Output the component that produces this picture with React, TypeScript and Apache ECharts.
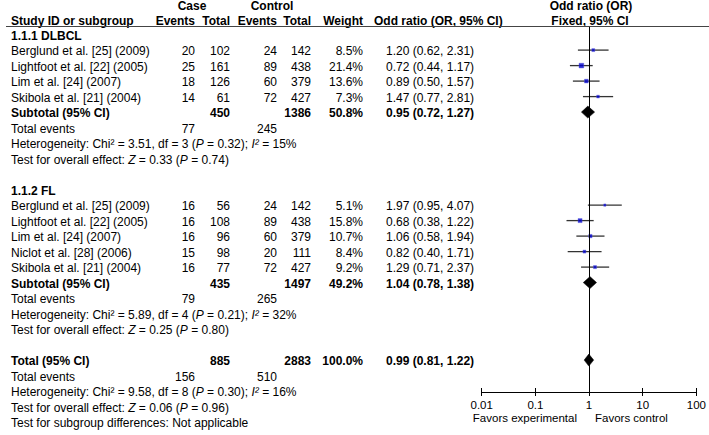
import React, { useEffect, useRef } from "react";
import * as echarts from "echarts";

// ---------- data ----------
const subgroupTitles = ["1.1.1 DLBCL", "1.1.2 FL"];

const dlbclStudies = ["Berglund et al. [25] (2009)", "Lightfoot et al. [22] (2005)", "Lim et al. [24] (2007)", "Skibola et al. [21] (2004)"];
const dlbclCaseEvents = [20, 25, 18, 14];
const dlbclCaseTotal = [102, 161, 126, 61];
const dlbclCtrlEvents = [24, 89, 60, 72];
const dlbclCtrlTotal = [142, 438, 379, 427];
const dlbclWeight = [8.5, 21.4, 13.6, 7.3];
const dlbclOR = [1.2, 0.72, 0.89, 1.47];
const dlbclLow = [0.62, 0.44, 0.5, 0.77];
const dlbclHigh = [2.31, 1.17, 1.57, 2.81];

const flStudies = ["Berglund et al. [25] (2009)", "Lightfoot et al. [22] (2005)", "Lim et al. [24] (2007)", "Niclot et al. [28] (2006)", "Skibola et al. [21] (2004)"];
const flCaseEvents = [16, 16, 16, 15, 16];
const flCaseTotal = [56, 108, 96, 98, 77];
const flCtrlEvents = [24, 89, 60, 20, 72];
const flCtrlTotal = [142, 438, 379, 111, 427];
const flWeight = [5.1, 15.8, 10.7, 8.4, 9.2];
const flOR = [1.97, 0.68, 1.06, 0.82, 1.29];
const flLow = [0.95, 0.38, 0.58, 0.4, 0.71];
const flHigh = [4.07, 1.22, 1.94, 1.71, 2.37];

// subtotal / total summaries: [DLBCL, FL, Overall]
const sumCaseTotal = [450, 435, 885];
const sumCtrlTotal = [1386, 1497, 2883];
const sumWeight = ["50.8%", "49.2%", "100.0%"];
const sumOR = [0.95, 1.04, 0.99];
const sumLow = [0.72, 0.78, 0.81];
const sumHigh = [1.27, 1.38, 1.22];
const sumCaseEvents = [77, 79, 156];
const sumCtrlEvents = [245, 265, 510];
const hetChi = ["3.51", "5.89", "9.58"];
const hetDf = [3, 4, 8];
const hetP = ["0.32", "0.21", "0.30"];
const hetI2 = ["15%", "32%", "16%"];
const effZ = ["0.33", "0.25", "0.06"];
const effP = ["0.74", "0.80", "0.96"];

const axisTicks = [0.01, 0.1, 1, 10, 100];

// ---------- layout ----------
const W = 709;
const H = 435;
const ROW0 = 34.6;
const ROW_H = 15.5;
const TEXT_DY = 1.2;
const GRID_TOP = 27;
const GRID_BOTTOM = 392;
const PLOT_LEFT = 481.7;
const PLOT_RIGHT = 697.3;
const FONT = '"Liberation Sans", Arial, sans-serif';

const rowY = (r: number) => ROW0 + ROW_H * r;

function fmt2(v: number) {
  return v.toFixed(2);
}

export default function App() {
  const ref = useRef<HTMLDivElement>(null);

  useEffect(() => {
    if (!ref.current) return;
    const chart = echarts.init(ref.current, null, { renderer: "svg", width: W, height: H });

    const groups = [
      { title: subgroupTitles[0], studies: dlbclStudies, ce: dlbclCaseEvents, ct: dlbclCaseTotal, ke: dlbclCtrlEvents, kt: dlbclCtrlTotal, w: dlbclWeight, or: dlbclOR, lo: dlbclLow, hi: dlbclHigh },
      { title: subgroupTitles[1], studies: flStudies, ce: flCaseEvents, ct: flCaseTotal, ke: flCtrlEvents, kt: flCtrlTotal, w: flWeight, or: flOR, lo: flLow, hi: flHigh },
    ];

    const graphics: any[] = [];
    const txt = (x: number, y: number, text: string, align = "left", bold = false, size = 12) => {
      graphics.push({
        type: "text",
        silent: true,
        style: {
          text,
          x,
          y,
          textAlign: align,
          textVerticalAlign: "middle",
          font: `${bold ? "bold " : ""}${size}px ${FONT}`,
          fill: "#000",
        },
      });
    };
    const richStyle = {
      n: { fontFamily: FONT, fontSize: 12, fill: "#000", color: "#000" },
      i: { fontFamily: FONT, fontSize: 12, fontStyle: "italic", fill: "#000", color: "#000" },
    };
    const rich = (x: number, y: number, text: string) => {
      graphics.push({
        type: "text",
        silent: true,
        style: {
          text,
          x,
          y,
          textAlign: "left",
          textVerticalAlign: "middle",
          font: `12px ${FONT}`,
          fill: "#000",
          rich: richStyle,
        },
      });
    };
    const ty = (r: number) => rowY(r) + TEXT_DY;

    const NAME_X = 11;
    const CE_R = 195;
    const CT_R = 230;
    const KE_R = 277;
    const KT_R = 311;
    const WT_R = 363;
    const OR_L = 386;

    // header
    txt(192, 6, "Case", "center", true);
    txt(272, 6, "Control", "center", true);
    txt(NAME_X, 20.5, "Study ID or subgroup", "left", true);
    txt(CE_R, 20.5, "Events", "right", true);
    txt(CT_R, 20.5, "Total", "right", true);
    txt(KE_R, 20.5, "Events", "right", true);
    txt(KT_R, 20.5, "Total", "right", true);
    txt(WT_R, 20.5, "Weight", "right", true);
    txt(374, 20.5, "Odd ratio (OR, 95% CI)", "left", true);
    txt(591, 6, "Odd ratio (OR)", "center", true);
    txt(590, 20.5, "Fixed, 95% CI", "center", true);
    graphics.push({
      type: "line",
      silent: true,
      shape: { x1: 6, y1: 26.5, x2: W, y2: 26.5 },
      style: { stroke: "#444", lineWidth: 1 },
    });

    const studyPts: any[] = [];
    const ciData: any[] = [];
    const diamondData: any[] = [];

    const summaryBlock = (r: number, k: number, label: string) => {
      const y = ty(r);
      txt(NAME_X, y, label, "left", true);
      txt(CT_R, y, String(sumCaseTotal[k]), "right", true);
      txt(KT_R, y, String(sumCtrlTotal[k]), "right", true);
      txt(WT_R, y, sumWeight[k], "right", true);
      txt(OR_L, y, `${fmt2(sumOR[k])} (${fmt2(sumLow[k])}, ${fmt2(sumHigh[k])})`, "left", true);
      diamondData.push([sumOR[k], sumLow[k], sumHigh[k], r]);
      r++;
      const y2 = ty(r);
      txt(NAME_X, y2, "Total events");
      txt(CE_R, y2, String(sumCaseEvents[k]), "right");
      txt(KE_R, y2, String(sumCtrlEvents[k]), "right");
      r++;
      rich(NAME_X, ty(r), `{n|Heterogeneity: Chi² = ${hetChi[k]}, df = ${hetDf[k]} (}{i|P}{n| = ${hetP[k]}); }{i|I²}{n| = ${hetI2[k]}}`);
      r++;
      rich(NAME_X, ty(r), `{n|Test for overall effect: }{i|Z}{n| = ${effZ[k]} (}{i|P}{n| = ${effP[k]})}`);
      r++;
      return r;
    };

    let r = 0;
    groups.forEach((g, k) => {
      txt(NAME_X, ty(r), g.title, "left", true);
      r++;
      g.studies.forEach((name, i) => {
        const y = ty(r);
        txt(NAME_X, y, name);
        txt(CE_R, y, String(g.ce[i]), "right");
        txt(CT_R, y, String(g.ct[i]), "right");
        txt(KE_R, y, String(g.ke[i]), "right");
        txt(KT_R, y, String(g.kt[i]), "right");
        txt(WT_R, y, `${g.w[i].toFixed(1)}%`, "right");
        txt(OR_L, y, `${fmt2(g.or[i])} (${fmt2(g.lo[i])}, ${fmt2(g.hi[i])})`);
        studyPts.push({ value: [g.or[i], r], symbolSize: 1.02 * Math.sqrt(g.w[i]) });
        ciData.push([g.lo[i], g.hi[i], r]);
        r++;
      });
      r = summaryBlock(r, k, "Subtotal (95% CI)");
      r++; // blank line
    });
    r = summaryBlock(r, 2, "Total (95% CI)");
    txt(NAME_X, ty(r), "Test for subgroup differences: Not applicable");

    // favors labels
    txt(577, 418, "Favors experimental", "right", false, 11.5);
    txt(595, 418, "Favors control", "left", false, 11.5);

    const yMin = (GRID_TOP - ROW0) / ROW_H;
    const yMax = (GRID_BOTTOM - ROW0) / ROW_H;

    const option: any = {
      animation: false,
      backgroundColor: "#fff",
      grid: { left: PLOT_LEFT, right: W - PLOT_RIGHT, top: GRID_TOP, bottom: H - GRID_BOTTOM, containLabel: false },
      xAxis: [
        {
          type: "log",
          logBase: 10,
          min: axisTicks[0],
          max: axisTicks[axisTicks.length - 1],
          position: "bottom",
          splitNumber: 4,
          axisLine: { show: true, onZero: false, lineStyle: { color: "#000", width: 1 } },
          axisTick: { show: true, inside: false, length: 4, lineStyle: { color: "#000" } },
          axisLabel: {
            show: true,
            margin: 7,
            fontSize: 11.5,
            fontFamily: FONT,
            color: "#000",
            formatter: (v: number) => String(axisTicks.find((t) => Math.abs(t - v) / t < 1e-6) ?? +v.toPrecision(3)),
          },
          splitLine: { show: false },
        },
        {
          type: "log",
          logBase: 10,
          min: axisTicks[0],
          max: axisTicks[axisTicks.length - 1],
          position: "bottom",
          offset: 0,
          splitNumber: 4,
          axisLine: { show: false, onZero: false },
          axisTick: { show: true, inside: true, length: 4, lineStyle: { color: "#000" } },
          axisLabel: { show: false },
          splitLine: { show: false },
        },
      ],
      yAxis: {
        type: "value",
        inverse: true,
        min: yMin,
        max: yMax,
        show: false,
        splitLine: { show: false },
      },
      series: [
        {
          type: "custom",
          name: "ci",
          xAxisIndex: 0,
          z: 2,
          silent: true,
          encode: { x: [0, 1], y: 2 },
          data: ciData,
          renderItem: (params: any, api: any) => {
            const a = api.coord([api.value(0), api.value(2)]);
            const b = api.coord([api.value(1), api.value(2)]);
            return {
              type: "line",
              shape: { x1: a[0], y1: a[1], x2: b[0], y2: b[1] },
              style: { stroke: "#333", lineWidth: 1.3 },
            };
          },
        },
        {
          type: "scatter",
          name: "studies",
          xAxisIndex: 0,
          z: 3,
          silent: true,
          symbol: "rect",
          itemStyle: { color: "#0000CC", borderColor: "#5555dd", borderWidth: 0.5 },
          data: studyPts,
          markLine: {
            silent: true,
            symbol: ["none", "none"],
            label: { show: false },
            lineStyle: { color: "#000", width: 1, type: "solid" },
            data: [{ xAxis: 1 }],
          },
        },
        {
          type: "custom",
          name: "diamonds",
          xAxisIndex: 0,
          z: 4,
          silent: true,
          encode: { x: [0, 1, 2], y: 3 },
          data: diamondData,
          renderItem: (params: any, api: any) => {
            const c = api.coord([api.value(0), api.value(3)]);
            const l = api.coord([api.value(1), api.value(3)]);
            const h = api.coord([api.value(2), api.value(3)]);
            const hh = 6;
            return {
              type: "polygon",
              shape: { points: [[l[0], c[1]], [c[0], c[1] - hh], [h[0], c[1]], [c[0], c[1] + hh]] },
              style: { fill: "#000", stroke: "#000", lineWidth: 0.5 },
            };
          },
        },
      ],
      graphic: graphics,
    };

    chart.setOption(option);
    return () => chart.dispose();
  }, []);

  return <div ref={ref} style={{ position: "absolute", left: 0, top: 0, width: W, height: H, background: "#fff" }} />;
}
